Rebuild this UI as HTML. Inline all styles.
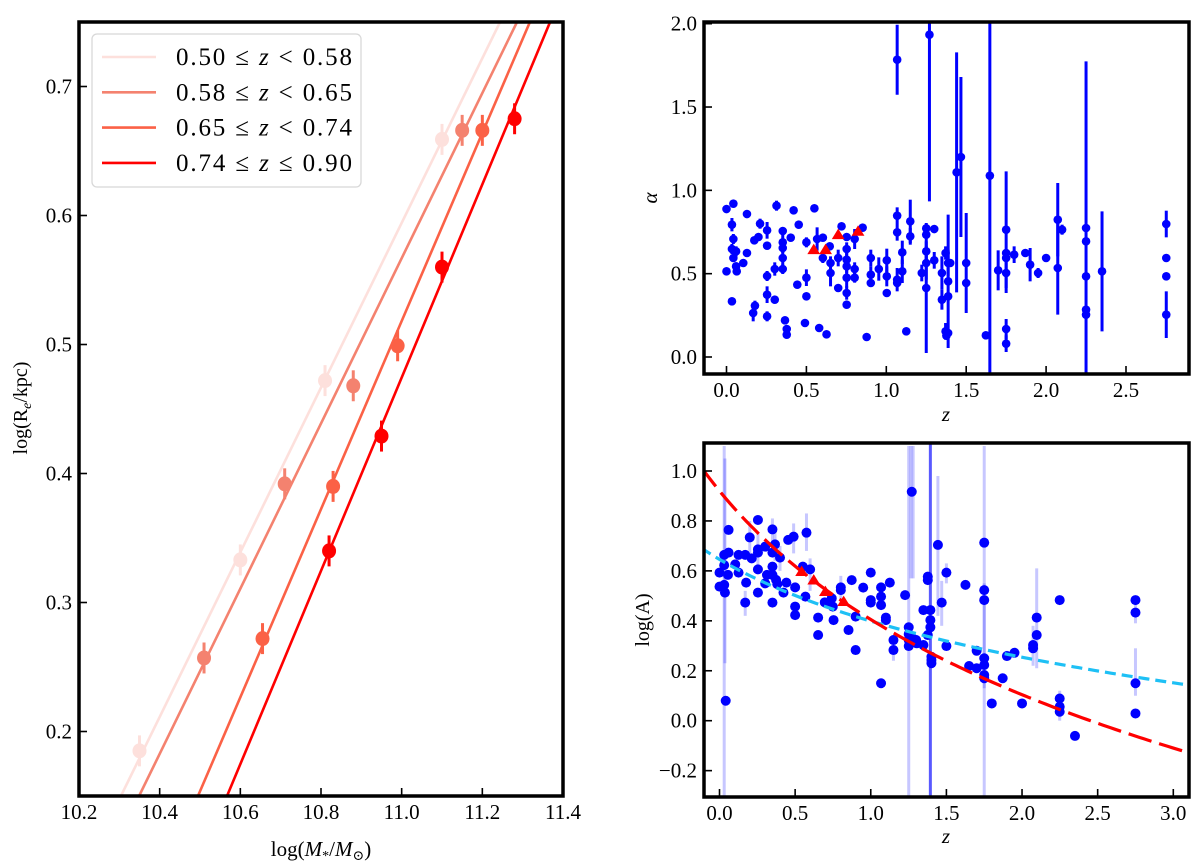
<!DOCTYPE html>
<html><head><meta charset="utf-8">
<style>
html,body{margin:0;padding:0;background:#fff;}
svg{display:block;font-family:"Liberation Serif","DejaVu Serif",serif;}
</style></head>
<body>
<svg id="fig" width="1200" height="867" viewBox="0 0 1200 867" xmlns="http://www.w3.org/2000/svg">
<rect width="1200" height="867" fill="#fff"/>
<g id="left"></g>
<g id="tr"></g>
<g id="br"></g>
</svg>
<script>
// ---------- data ----------
const massTicks = [10.2,10.4,10.6,10.8,11.0,11.2,11.4];
const sizeTicks = [0.2,0.3,0.4,0.5,0.6,0.7];
const binLabelsLo = ["0.50","0.58","0.65","0.74"];
const binLabelsRel = ["<","<","<","\u2264"];
const binLabelsHi = ["0.58","0.65","0.74","0.90"];
const binColors = ["#fde0dc","#f4826f","#fb6146","#ff0000"];
const binMass = [[10.35,10.60,10.81,11.10],[10.51,10.71,10.88,11.15],[10.655,10.83,10.99,11.20],[10.82,10.95,11.10,11.28]];
const binSize = [[0.185,0.333,0.472,0.659],[0.257,0.392,0.468,0.666],[0.272,0.390,0.499,0.666],[0.340,0.429,0.560,0.675]];
const binSizeErr = [0.012,0.012,0.012,0.012];
const lineStartMass = [10.304,10.349,10.495,10.567];
const lineEndMass = [11.244,11.286,11.318,11.368];

const zTicksTop = [0,0.5,1.0,1.5,2.0,2.5];
const alphaTicks = [0,0.5,1.0,1.5,2.0];
// [z, alpha, err]
const alphaPts = [[0,0.888,0],[0.043,0.92,0.02],[0,0.514,0],[0.034,0.334,0],[0.034,0.794,0.04],[0.043,0.708,0.03],[0.034,0.648,0.03],[0.06,0.634,0.03],[0.043,0.594,0],[0.06,0.544,0],[0.064,0.514,0],[0.128,0.858,0],[0.105,0.564,0],[0.128,0.624,0],[0.167,0.264,0.05],[0.178,0.308,0.03],[0.174,0.7,0],[0.2,0.72,0],[0.21,0.8,0.03],[0.254,0.76,0.05],[0.254,0.668,0],[0.254,0.486,0.03],[0.254,0.374,0.05],[0.254,0.244,0.03],[0.302,0.344,0],[0.302,0.528,0.04],[0.313,0.908,0.03],[0.352,0.756,0],[0.352,0.688,0.05],[0.352,0.654,0.03],[0.352,0.594,0.04],[0.352,0.528,0.03],[0.366,0.22,0],[0.377,0.168,0],[0.377,0.134,0],[0.402,0.716,0],[0.42,0.88,0.02],[0.443,0.434,0],[0.452,0.794,0],[0.491,0.204,0],[0.5,0.688,0.03],[0.5,0.476,0.05],[0.5,0.364,0],[0.55,0.892,0.02],[0.567,0.708,0.07],[0.58,0.174,0],[0.603,0.716,0],[0.603,0.594,0.03],[0.626,0.136,0],[0.646,0.664,0],[0.651,0.564,0.04],[0.651,0.504,0.08],[0.699,0.594,0.05],[0.699,0.414,0],[0.72,0.784,0],[0.752,0.72,0],[0.752,0.648,0.04],[0.752,0.584,0.05],[0.752,0.544,0.04],[0.752,0.476,0.06],[0.752,0.384,0.04],[0.752,0.314,0],[0.802,0.708,0.06],[0.802,0.528,0.04],[0.802,0.476,0.03],[0.852,0.776,0],[0.877,0.12,0],[0.903,0.594,0.05],[0.903,0.494,0.05],[0.903,0.444,0],[0.953,0.528,0.07],[1.003,0.58,0.07],[1.003,0.484,0.06],[1.003,0.384,0],[1.068,1.784,0.21],[1.068,0.848,0.05],[1.068,0.748,0.05],[1.068,0.464,0.07],[1.068,0.444,0],[1.1,0.628,0.07],[1.1,0.514,0.07],[1.125,0.154,0],[1.15,0.814,0.13],[1.15,0.724,0.05],[1.222,0.504,0.05],[1.25,0.772,0],[1.25,0.734,0],[1.25,0.634,0.06],[1.25,0.564,0.1],[1.25,0.414,0.39],[1.27,1.934,1.0],[1.3,0.768,0],[1.3,0.58,0.05],[1.348,0.504,0.1],[1.348,0.344,0.06],[1.371,0.624,0.04],[1.371,0.154,0.05],[1.376,0.128,0],[1.387,0.564,0.08],[1.387,0.454,0.4],[1.387,0.364,0],[1.387,0.144,0],[1.4,0.564,0],[1.44,1.108,0.72],[1.467,1.2,0.48],[1.5,0.564,0.3],[1.5,0.444,0],[1.623,0.13,0],[1.648,1.088,1.2],[1.7,0.52,0.12],[1.75,0.764,0.35],[1.75,0.624,0],[1.75,0.594,0],[1.75,0.504,0.12],[1.75,0.168,0.06],[1.75,0.08,0.05],[1.8,0.614,0.05],[1.87,0.624,0],[1.9,0.554,0.1],[1.95,0.504,0.03],[2.0,0.594,0],[2.073,0.824,0.22],[2.073,0.534,0.28],[2.1,0.764,0.03],[2.25,0.774,1.0],[2.25,0.694,0],[2.25,0.484,0],[2.25,0.284,0],[2.25,0.254,0],[2.35,0.514,0.36],[2.752,0.798,0.08],[2.752,0.594,0],[2.752,0.484,0],[2.752,0.254,0.14]];
const alphaTriZ = [0.546,0.62,0.699,0.823];
const alphaTriVal = [0.644,0.644,0.734,0.754];

const zTicksBot = [0,0.5,1.0,1.5,2.0,2.5,3.0];
const logATicks = [-0.2,0,0.2,0.4,0.6,0.8,1.0];
// [z, logA]
const logAPts = [[0,0.537],[0,0.593],[0.031,0.664],[0.031,0.623],[0.031,0.544],[0.036,0.513],[0.041,0.08],[0.06,0.764],[0.06,0.673],[0.056,0.584],[0.104,0.626],[0.126,0.664],[0.126,0.593],[0.17,0.664],[0.176,0.553],[0.17,0.473],[0.2,0.734],[0.213,0.65],[0.254,0.804],[0.254,0.686],[0.254,0.673],[0.254,0.606],[0.254,0.513],[0.302,0.697],[0.314,0.584],[0.302,0.55],[0.35,0.766],[0.35,0.673],[0.35,0.617],[0.35,0.584],[0.35,0.473],[0.367,0.706],[0.374,0.564],[0.382,0.547],[0.4,0.653],[0.423,0.513],[0.442,0.553],[0.454,0.724],[0.49,0.737],[0.5,0.534],[0.5,0.457],[0.5,0.423],[0.551,0.617],[0.575,0.753],[0.568,0.497],[0.599,0.606],[0.652,0.413],[0.652,0.343],[0.696,0.474],[0.742,0.49],[0.749,0.457],[0.754,0.403],[0.802,0.534],[0.802,0.523],[0.853,0.363],[0.874,0.563],[0.9,0.417],[0.9,0.283],[0.95,0.533],[1.0,0.593],[1.0,0.483],[1.0,0.473],[1.068,0.497],[1.068,0.463],[1.068,0.534],[1.068,0.15],[1.1,0.413],[1.1,0.403],[1.126,0.553],[1.15,0.323],[1.15,0.283],[1.227,0.503],[1.251,0.374],[1.251,0.347],[1.251,0.323],[1.251,0.299],[1.271,0.917],[1.276,0.33],[1.3,0.323],[1.304,0.31],[1.348,0.443],[1.348,0.303],[1.377,0.577],[1.377,0.563],[1.377,0.343],[1.394,0.443],[1.394,0.403],[1.394,0.374],[1.401,0.256],[1.401,0.243],[1.401,0.23],[1.444,0.704],[1.469,0.473],[1.5,0.593],[1.5,0.299],[1.626,0.544],[1.65,0.219],[1.7,0.21],[1.7,0.28],[1.75,0.713],[1.75,0.523],[1.75,0.483],[1.75,0.25],[1.75,0.223],[1.75,0.183],[1.75,0.17],[1.8,0.069],[1.872,0.17],[1.9,0.259],[1.95,0.272],[2.0,0.069],[2.073,0.303],[2.073,0.29],[2.097,0.413],[2.097,0.343],[2.249,0.483],[2.249,0.089],[2.249,0.056],[2.249,0.036],[2.35,-0.061],[2.75,0.483],[2.75,0.433],[2.75,0.15],[2.75,0.029]];
// light error bars [z, lo, hi]
const logAErrBars = [[0.031,-0.3,1.1],[0.036,0.23,1.05],[0.2,0.66,0.8],[0.254,0.62,0.75],[0.35,0.72,0.81],[0.367,0.64,0.77],[0.49,0.67,0.79],[0.575,0.68,0.83],[0.599,0.52,0.65],[0.4,0.6,0.7],[0.17,0.42,0.52],[0.802,0.48,0.58],[1.15,0.24,0.32],[1.251,-0.3,1.1],[1.266,0.57,1.1],[1.28,0.57,1.1],[1.444,0.42,0.98],[1.469,0.38,0.56],[1.5,0.55,0.63],[1.75,-0.3,1.1],[1.75,0.13,0.55],[1.9,0.24,0.28],[2.073,0.22,0.38],[2.097,0.21,0.61],[2.249,0.0,0.12],[2.75,0.39,0.5],[2.75,0.1,0.29]];
const logADarkBarZ = [1.394];
const logATriZ = [0.543,0.623,0.7,0.821];
const logATriVal = [0.597,0.563,0.517,0.477];
// fit models: logA = a - b*log10(1+z)
const fitRed = [0.92,1.71];
const fitCyan = [0.646,0.821];

// ---------- helpers ----------
const NS="http://www.w3.org/2000/svg";
function mk(tag, parent, attrs){const e=document.createElementNS(NS,tag);for(const k in attrs)e.setAttribute(k,attrs[k]);parent.appendChild(e);return e;}
function scale(d0,d1,p0,p1){return v=>p0+(v-d0)*(p1-p0)/(d1-d0);}
function fmt(v){return (v<0?"\u2212":"")+Math.abs(v).toFixed(1);}
function axes(g,box,sx,sy,xt,yt,xdig,ydig){
  const [L,T,R,B]=box;
  const tk=mk('g',g,{});
  
  
  xt.forEach(v=>{const x=sx(v);
    mk('line',tk,{x1:x,x2:x,y1:B,y2:B-8,stroke:'#000','stroke-width':1.6});
    const t=mk('text',tk,{x:x,y:B+23,'text-anchor':'middle','font-size':21});
    t.textContent=xdig(v);
    
    });
  yt.forEach(v=>{const y=sy(v);
    mk('line',tk,{x1:L,x2:L+8,y1:y,y2:y,stroke:'#000','stroke-width':1.6});
    const t=mk('text',tk,{x:L-7,y:y+7,'text-anchor':'end','font-size':21});
    t.textContent=ydig(v);
    
    });
}
function frame(g,box){const [L,T,R,B]=box;
  const r=mk('rect',g,{x:L,y:T,width:R-L,height:B-T,fill:'none',stroke:'#000','stroke-width':3.5});
  
  }
function clip(id,box){const defs=mk('defs',document.getElementById('fig'),{});const c=mk('clipPath',defs,{id:id});mk('rect',c,{x:box[0],y:box[1],width:box[2]-box[0],height:box[3]-box[1]});}
function tri(g,x,y,s,col){return mk('polygon',g,{points:`${x},${y-s*0.75} ${x-s*0.8},${y+s*0.55} ${x+s*0.8},${y+s*0.55}`,fill:col});}

// ---------- left panel ----------
(function(){
  const g=document.getElementById('left');
  const box=[79,22,563,796];
  const sx=scale(10.2,11.4,79,563), sy=scale(0.15,0.75,796,22);
  clip('cl',box);
  const data=mk('g',g,{'clip-path':'url(#cl)'});
  binColors.forEach((c,i)=>{
    const m0=lineStartMass[i],m1=lineEndMass[i];
    const ln=mk('line',data,{x1:sx(m0),y1:sy(0.15),x2:sx(m1),y2:sy(0.75),stroke:c,'stroke-width':2.6});
    
    
    binMass[i].forEach((m,j)=>{
      const v=binSize[i][j], e=binSizeErr[i];
      const eb=mk('line',data,{x1:sx(m),x2:sx(m),y1:sy(v-e),y2:sy(v+e),stroke:c,'stroke-width':3});
      
      
      const p=mk('ellipse',data,{cx:sx(m),cy:sy(v),rx:7,ry:7.5,fill:c});
      
      
    });
  });
  axes(g,box,sx,sy,massTicks,sizeTicks,v=>v.toFixed(1),v=>v.toFixed(1));
  frame(g,box);
  // legend
  const lg=mk('g',g,{});
  
  
  mk('rect',lg,{x:92,y:34,width:269,height:153,rx:5,fill:'#fff','fill-opacity':0.85,stroke:'#d8d8d8','stroke-width':1.3});
  binLabelsLo.forEach((s,i)=>{
    const y=57+i*35.3;
    const e=mk('g',lg,{});
    
    
    mk('line',e,{x1:102,x2:156,y1:y,y2:y,stroke:binColors[i],'stroke-width':2.6});
    const t=mk('text',e,{x:176,y:y+8,'font-size':25,textLength:176,lengthAdjust:'spacing'});
    t.innerHTML=s+' \u2264 <tspan font-style="italic">z</tspan> '+(binLabelsRel[i]==='<'?'&lt;':binLabelsRel[i])+' '+binLabelsHi[i];
  });
  const yl=mk('text',g,{x:0,y:0,transform:'translate(27,408) rotate(-90)','text-anchor':'middle','font-size':20});
  yl.innerHTML='log(R<tspan font-size="14" dy="4" font-style="italic">e</tspan><tspan dy="-4">/kpc)</tspan>';
  
  
  const xl=mk('text',g,{x:321,y:856,'text-anchor':'middle','font-size':21});
  xl.innerHTML='log(<tspan font-style="italic">M</tspan><tspan font-size="14" dy="4">*</tspan><tspan dy="-4">/</tspan><tspan font-style="italic">M</tspan><tspan font-size="14" dy="4">\u2299</tspan><tspan dy="-4">)</tspan>';
  
  
})();

// ---------- top right ----------
(function(){
  const g=document.getElementById('tr');
  const box=[704,22,1189,374];
  const sx=scale(0,2.5,726.5,1126), sy=scale(0,2.0,357,23.7);
  clip('ct',box);
  const data=mk('g',g,{'clip-path':'url(#ct)'});
  alphaPts.forEach(p=>{
    if(p[2]>0){const eb=mk('line',data,{x1:sx(p[0]),x2:sx(p[0]),y1:sy(p[1]-p[2]),y2:sy(p[1]+p[2]),stroke:'#0000ff','stroke-width':3});
      
      }
    const c=mk('circle',data,{cx:sx(p[0]),cy:sy(p[1]),r:4.3,fill:'#0000ff'});
    
    
  });
  alphaTriZ.forEach((z,i)=>{const t=tri(data,sx(z),sy(alphaTriVal[i]),8,'#ff0000');
    
    });
  axes(g,box,sx,sy,zTicksTop,alphaTicks,v=>v.toFixed(1),v=>v.toFixed(1));
  frame(g,box);
  const yl=mk('text',g,{x:0,y:0,transform:'translate(657,198) rotate(-90)','text-anchor':'middle','font-size':21,'font-style':'italic'});
  yl.textContent='\u03b1';
  
  
  const xl=mk('text',g,{x:946,y:421,'text-anchor':'middle','font-size':21,'font-style':'italic'});
  xl.textContent='z';
  
  
})();

// ---------- bottom right ----------
(function(){
  const g=document.getElementById('br');
  const box=[704,443,1189,797];
  const sx=scale(0,3.0,719.5,1173.3), sy=scale(0,1.0,720.7,471);
  clip('cb',box);
  const data=mk('g',g,{'clip-path':'url(#cb)'});
  logAErrBars.forEach(b=>{const eb=mk('line',data,{x1:sx(b[0]),x2:sx(b[0]),y1:sy(b[1]),y2:sy(b[2]),stroke:'#0000ff','stroke-opacity':0.22,'stroke-width':3});
    
    });
  logADarkBarZ.forEach(z=>{const eb=mk('line',data,{x1:sx(z),x2:sx(z),y1:sy(-0.35),y2:sy(1.15),stroke:'#0000ff','stroke-opacity':0.65,'stroke-width':3});
    
    });
  function curve(p,col,dash,w,name){
    let d='';for(let i=0;i<=120;i++){const z=-0.12+i*(3.25/120);const v=p[0]-p[1]*Math.log10(1+z);d+=(i?'L':'M')+sx(z).toFixed(2)+','+sy(v).toFixed(2);}
    const e=mk('path',data,{d:d,fill:'none',stroke:col,'stroke-width':w,'stroke-dasharray':dash});
    
    
  }
  logAPts.forEach(p=>{const c=mk('circle',data,{cx:sx(p[0]),cy:sy(p[1]),r:5,fill:'#0000ff'});
    
    });
  curve(fitCyan,'#1ec0f5','11 6',3.2,'cyan-fit-curve');
  curve(fitRed,'#ff0000','24 8',3.2,'red-fit-curve');
  logATriZ.forEach((z,i)=>{const t=tri(data,sx(z),sy(logATriVal[i]),8,'#ff0000');
    
    });
  axes(g,box,sx,sy,zTicksBot,logATicks,v=>v.toFixed(1),fmt);
  frame(g,box);
  const yl=mk('text',g,{x:0,y:0,transform:'translate(649,620) rotate(-90)','text-anchor':'middle','font-size':20});
  yl.textContent='log(A)';
  
  
  const xl=mk('text',g,{x:946,y:843,'text-anchor':'middle','font-size':21,'font-style':'italic'});
  xl.textContent='z';
  
  
})();
</script>
</body></html>
